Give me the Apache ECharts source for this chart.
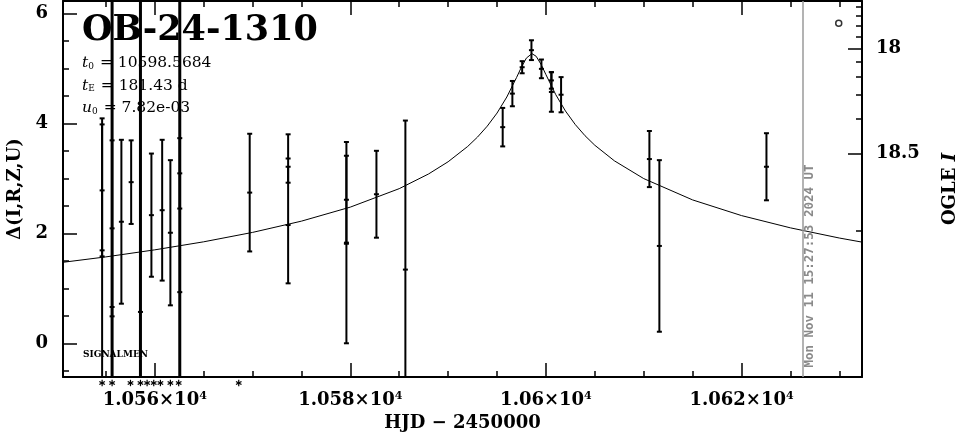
<!DOCTYPE html>
<html><head><meta charset="utf-8">
<script src="https://cdn.jsdelivr.net/npm/echarts@6/dist/echarts.min.js"></script>
<style>html,body{margin:0;padding:0;background:#fff}#c{width:965px;height:434px}</style>
</head><body><div id="c"></div>
<script>
// ---------- data ----------
const eventName = 'OB-24-1310';
const paramNames = ['t', 't', 'u'];
const paramSubs = ['0', 'E', '0'];
const paramValues = ['10598.5684', '181.43 d', '7.82e-03'];
const signalmenText = 'SIGNALMEN';
const timestampText = 'Mon Nov 11 15:27:53 2024 UT';
const nowT = 10626.26;

// observations: HJD-2450000, Δ, error
const obsT = [10554.62, 10554.62, 10555.64, 10555.64, 10556.59, 10557.59, 10558.54, 10559.66, 10560.76, 10561.60,
  10562.56, 10562.56, 10569.71, 10573.64, 10573.64, 10579.60, 10579.60, 10582.67, 10585.63, 10595.58,
  10596.57, 10597.57, 10598.52, 10599.54, 10600.56, 10600.56, 10601.55, 10610.58, 10611.60, 10622.55];
const obsDelta = [2.78, 1.69, 0.66, 2.09, 2.21, 2.93, 0.57, 2.33, 2.42, 2.01,
  3.09, 0.93, 2.74, 3.36, 2.15, 1.83, 2.61, 2.71, 1.34, 3.93,
  4.54, 5.02, 5.33, 4.99, 4.78, 4.57, 4.52, 3.35, 1.77, 3.21];
const obsErr = [1.2, 2.4, 6, 1.6, 1.49, 0.76, 6, 1.12, 1.28, 1.32,
  0.64, 6, 1.07, 0.44, 1.06, 1.83, 0.8, 0.79, 2.71, 0.35,
  0.23, 0.11, 0.18, 0.17, 0.15, 0.36, 0.32, 0.51, 1.56, 0.61];

// model curve
const modelT = [10550.5, 10555, 10560, 10565, 10570, 10575, 10580, 10585, 10588, 10590, 10592, 10593, 10594, 10595,
  10596, 10597, 10597.5, 10598, 10598.57, 10599, 10599.5, 10600, 10601, 10602, 10603, 10604, 10605, 10607,
  10610, 10615, 10620, 10625, 10630, 10632.5];
const modelDelta = [1.470, 1.571, 1.699, 1.845, 2.016, 2.221, 2.476, 2.812, 3.079, 3.301, 3.579, 3.749, 3.948, 4.186,
  4.478, 4.834, 5.023, 5.186, 5.267, 5.219, 5.073, 4.886, 4.523, 4.223, 3.978, 3.774, 3.601, 3.318,
  2.995, 2.607, 2.322, 2.099, 1.914, 1.834];

// flagged epochs (asterisks under the axis)
const flagT = [10554.62, 10555.64, 10557.52, 10558.54, 10559.22, 10559.90, 10560.58, 10561.60, 10562.45, 10568.59];

// symbol in the upper right
const symT = [10629.94];
const symDelta = [5.82];

// axes
const X_MIN = 10550.62, X_MAX = 10632.32;
const Y_MIN = -0.613, Y_MAX = 6.224;
const xMajorTicks = [10560, 10580, 10600, 10620];
const xTickMantissa = ['1.056', '1.058', '1.06', '1.062'];
const xMinorTicks = [10555, 10565, 10570, 10575, 10585, 10590, 10595, 10605, 10610, 10615, 10625, 10630];
const yMajorTicks = [0, 2, 4, 6];
const yMinorTicks = [-0.5, 0.5, 1, 1.5, 2.5, 3, 3.5, 4.5, 5, 5.5];
const magMajorTicks = [18, 18.5];
const magTickLabels = ['18', '18.5'];
const magMinorTicks = [17.6, 17.7, 17.8, 17.9, 18.1, 18.2, 18.3, 18.4, 18.6];
// OGLE I magnitude <-> Δ relation (blend)
const MAG_REF = 18, BLEND_S = 0.003191, BLEND_B = 0.5545;
function magToDelta(m) {
  const f = Math.pow(10, -0.4 * (m - MAG_REF));
  return 2.5 * Math.log10((f - BLEND_B) / BLEND_S);
}
const magMajorPos = magMajorTicks.map(magToDelta);
const magMinorPos = magMinorTicks.map(magToDelta);

// ---------- chart ----------
const FONT = '"DejaVu Serif", serif';
const chart = echarts.init(document.getElementById('c'), null, {renderer: 'canvas'});

function renderErr(params, api) {
  const t = api.value(0), d = api.value(1), e = api.value(2);
  const p0 = api.coord([t, d + e]), p1 = api.coord([t, d - e]), pc = api.coord([t, d]);
  const lw = e > 3 ? 3 : 2;
  const st = {stroke: '#000', lineWidth: lw};
  const cap = {stroke: '#000', lineWidth: 2};
  return {type: 'group', children: [
    {type: 'line', shape: {x1: p0[0], y1: p0[1], x2: p1[0], y2: p1[1]}, style: st},
    {type: 'line', shape: {x1: p0[0] - 2.5, y1: p0[1], x2: p0[0] + 2.5, y2: p0[1]}, style: cap},
    {type: 'line', shape: {x1: p1[0] - 2.5, y1: p1[1], x2: p1[0] + 2.5, y2: p1[1]}, style: cap},
    {type: 'rect', shape: {x: pc[0] - 2.5, y: pc[1] - 1, width: 5, height: 2}, style: {fill: '#000'}}
  ]};
}
function renderFlag(params, api) {
  const p = api.coord([api.value(0), Y_MIN]);
  const cx = p[0], cy = p[1] + 6, r = 3.2;
  const st = {stroke: '#000', lineWidth: 1.2};
  const dx = r * Math.cos(Math.PI / 6), dy = r * Math.sin(Math.PI / 6);
  return {type: 'group', children: [
    {type: 'line', shape: {x1: cx, y1: cy - r, x2: cx, y2: cy + r}, style: st},
    {type: 'line', shape: {x1: cx - dx, y1: cy - dy, x2: cx + dx, y2: cy + dy}, style: st},
    {type: 'line', shape: {x1: cx - dx, y1: cy + dy, x2: cx + dx, y2: cy - dy}, style: st}
  ]};
}

function lineCfg(show) {
  return {show: show, onZero: false, lineStyle: {color: '#000', width: 2}};
}
function tickCfg(ticks, len) {
  return {show: true, inside: true, length: len, customValues: ticks.slice(), lineStyle: {color: '#000', width: 1.5}};
}
function xAx(pos, ticks, len, withLine, withLabel) {
  return {
    type: 'value', min: X_MIN, max: X_MAX, position: pos,
    axisLine: lineCfg(withLine),
    axisTick: tickCfg(ticks, len),
    axisLabel: withLabel ? {
      show: true, customValues: xMajorTicks.slice(), margin: 14, color: '#000',
      fontFamily: FONT, fontWeight: 'bold', fontSize: 18,
      formatter: v => {
        const i = xMajorTicks.findIndex(t => Math.abs(t - v) < 1e-6);
        return xTickMantissa[i] + '×10{sup|4}';
      },
      rich: {sup: {fontSize: 11, fontWeight: 'bold', fontFamily: FONT, verticalAlign: 'top', padding: [0, 0, 8, 0]}}
    } : {show: false},
    splitLine: {show: false}
  };
}
function yAx(pos, ticks, len, withLine, labelCfg) {
  return {
    type: 'value', min: Y_MIN, max: Y_MAX, position: pos,
    axisLine: lineCfg(withLine),
    axisTick: tickCfg(ticks, len),
    axisLabel: labelCfg || {show: false},
    splitLine: {show: false}
  };
}

const xAxes = [
  xAx('bottom', xMajorTicks, 14, true, true),
  xAx('bottom', xMinorTicks, 6, false, false),
  xAx('top', xMajorTicks, 14, true, false),
  xAx('top', xMinorTicks, 6, false, false)
];
xAxes[0].name = 'HJD − 2450000';
xAxes[0].nameLocation = 'middle';
xAxes[0].nameGap = 33;
xAxes[0].nameTextStyle = {fontFamily: FONT, fontWeight: 'bold', fontSize: 18, color: '#000'};

const yAxes = [
  yAx('left', yMajorTicks, 14, true, {
    show: true, customValues: yMajorTicks.slice(), margin: 15, color: '#000',
    fontFamily: FONT, fontWeight: 'bold', fontSize: 18
  }),
  yAx('left', yMinorTicks, 6, false, null),
  yAx('right', magMajorPos, 14, true, {
    show: true, customValues: magMajorPos.slice(), margin: 14, color: '#000',
    fontFamily: FONT, fontWeight: 'bold', fontSize: 18,
    formatter: v => {
      let best = 0;
      magMajorPos.forEach((p, i) => { if (Math.abs(p - v) < Math.abs(magMajorPos[best] - v)) best = i; });
      return magTickLabels[best];
    }
  }),
  yAx('right', magMinorPos, 6, false, null)
];
yAxes[0].name = 'Δ(I,R,Z,U)';
yAxes[0].nameLocation = 'middle';
yAxes[0].nameGap = 39;
yAxes[0].nameTextStyle = {fontFamily: FONT, fontWeight: 'bold', fontSize: 18, color: '#000'};
yAxes[2].name = 'OGLE {i|I}';
yAxes[2].nameLocation = 'middle';
yAxes[2].nameRotate = 90;
yAxes[2].nameGap = 79;
yAxes[2].nameTextStyle = {fontFamily: FONT, fontWeight: 'bold', fontSize: 18, color: '#000',
  rich: {i: {fontStyle: 'italic', fontFamily: FONT, fontWeight: 'bold', fontSize: 18}}};

const paramGraphics = paramNames.map((n, i) => ({
  type: 'text', x: 82, y: 63 + i * 22.5,
  style: {
    text: '{v|' + n + '}{s|' + paramSubs[i] + '} = ' + paramValues[i],
    font: '15.5px ' + FONT, fill: '#000',
    textVerticalAlign: 'middle', verticalAlign: 'middle',
    rich: {
      v: {fontStyle: 'italic', fontSize: 15.5, fontFamily: FONT},
      s: {fontSize: 9, fontFamily: FONT, verticalAlign: 'bottom', padding: [0, 1, 0, 0]}
    }
  }
}));

const option = {
  animation: false,
  backgroundColor: '#fff',
  grid: {left: 63, right: 103, top: 1, bottom: 57, containLabel: false, outerBoundsMode: 'none'},
  xAxis: xAxes,
  yAxis: yAxes,
  graphic: [
    {type: 'text', x: 82, y: 31, style: {text: eventName, font: 'bold 35px ' + FONT, fill: '#000',
      textVerticalAlign: 'middle', verticalAlign: 'middle'}},
    ...paramGraphics,
    {type: 'text', x: 83, y: 355, style: {text: signalmenText, font: 'bold 9px ' + FONT, fill: '#000',
      textVerticalAlign: 'middle', verticalAlign: 'middle'}},
    {type: 'text', x: 810, y: 266, rotation: Math.PI / 2, z: 10,
      style: {text: timestampText, font: 'bold 12.5px "DejaVu Sans Mono", monospace', fill: '#8a8a8a',
        textAlign: 'center', align: 'center', textVerticalAlign: 'middle', verticalAlign: 'middle'}}
  ],
  series: [
    {
      type: 'line', xAxisIndex: 0, yAxisIndex: 0,
      data: modelT.map((t, i) => [t, modelDelta[i]]),
      showSymbol: false, symbol: 'none', clip: true,
      lineStyle: {color: '#000', width: 1},
      markLine: {
        silent: true, symbol: ['none', 'none'], label: {show: false},
        lineStyle: {color: '#9a9a9a', width: 1.5, type: 'solid'},
        data: [{xAxis: nowT}]
      }
    },
    {
      type: 'custom', xAxisIndex: 0, yAxisIndex: 0, clip: true,
      renderItem: renderErr,
      data: obsT.map((t, i) => [t, obsDelta[i], obsErr[i]]),
      encode: {x: 0, y: 1}
    },
    {
      type: 'custom', xAxisIndex: 0, yAxisIndex: 0, clip: false,
      renderItem: renderFlag,
      data: flagT.map(t => [t, Y_MIN]),
      encode: {x: 0, y: 1}
    },
    {
      type: 'scatter', xAxisIndex: 0, yAxisIndex: 0,
      data: symT.map((t, i) => [t, symDelta[i]]),
      symbol: 'circle', symbolSize: 6,
      itemStyle: {color: '#fff', borderColor: '#000', borderWidth: 1.5}
    }
  ]
};
chart.setOption(option);
</script>
</body></html>
